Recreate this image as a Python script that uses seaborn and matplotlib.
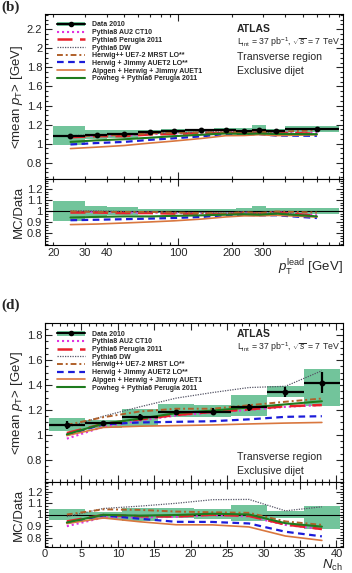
import matplotlib
matplotlib.use("Agg")
import matplotlib.pyplot as plt
import numpy as np
import seaborn as sns
from matplotlib.lines import Line2D
from matplotlib.patches import Patch
from matplotlib.ticker import FixedLocator, FuncFormatter, LogLocator, MultipleLocator, NullFormatter

# ---- (b) mean pT vs leading-jet pT --------------------------------------
PT_EDGES = [20, 30, 40, 60, 80, 110, 160, 210, 260, 310, 400, 800]
PT_CENTRES = [25, 35, 50, 70, 95, 135, 185, 235, 285, 355, 600]
PT_DATA = [1.084, 1.095, 1.102, 1.119, 1.130, 1.140, 1.147, 1.137, 1.147, 1.130, 1.158]
PT_STAT = [0.005, 0.005, 0.005, 0.005, 0.005, 0.005, 0.006, 0.006, 0.007, 0.008, 0.010]
PT_SYS_UP = [0.090, 0.045, 0.035, 0.020, 0.020, 0.015, 0.015, 0.025, 0.045, 0.025, 0.025]
PT_SYS_DOWN = [0.090, 0.045, 0.035, 0.020, 0.020, 0.015, 0.015, 0.025, 0.045, 0.025, 0.030]

PT_PYTHIA8_AU2 = [1.073, 1.084, 1.085, 1.102, 1.107, 1.117, 1.118, 1.120, 1.118, 1.119, 1.112]
PT_PERUGIA2011 = [1.068, 1.079, 1.080, 1.097, 1.102, 1.112, 1.113, 1.114, 1.118, 1.113, 1.106]
PT_PYTHIA6_DW = [1.084, 1.095, 1.096, 1.108, 1.113, 1.123, 1.124, 1.126, 1.118, 1.113, 1.100]
PT_HERWIGPP = [1.079, 1.084, 1.091, 1.108, 1.113, 1.117, 1.118, 1.126, 1.124, 1.124, 1.141]
PT_JIMMY_AUET2 = [0.992, 1.007, 1.019, 1.041, 1.057, 1.077, 1.101, 1.097, 1.101, 1.085, 1.083]
PT_ALPGEN = [0.949, 0.964, 0.981, 1.007, 1.028, 1.055, 1.084, 1.086, 1.095, 1.085, 1.094]
PT_POWHEG = [1.019, 1.035, 1.047, 1.063, 1.079, 1.094, 1.107, 1.103, 1.107, 1.102, 1.100]

# ---- (d) mean pT vs charged multiplicity --------------------------------
NCH_EDGES = [0.5, 5.5, 10.5, 15.5, 20.5, 25.5, 30.5, 35.5, 40.5]
NCH_CENTRES = [3, 8, 13, 18, 23, 28, 33, 38]
NCH_DATA = [1.080, 1.093, 1.142, 1.180, 1.187, 1.220, 1.347, 1.420]
NCH_STAT = [0.030, 0.020, 0.022, 0.020, 0.025, 0.030, 0.040, 0.085]
NCH_SYS_UP = [0.048, 0.025, 0.060, 0.057, 0.045, 0.080, 0.033, 0.074]
NCH_SYS_DOWN = [0.045, 0.035, 0.060, 0.030, 0.035, 0.055, 0.030, 0.130]

NCH_PYTHIA8_AU2 = [0.970, 1.065, 1.115, 1.155, 1.180, 1.200, 1.225, 1.240]
NCH_PERUGIA2011 = [1.015, 1.088, 1.125, 1.160, 1.185, 1.205, 1.230, 1.240]
NCH_PYTHIA6_DW = [1.060, 1.150, 1.225, 1.295, 1.340, 1.380, 1.390, 1.515]
NCH_HERWIGPP = [1.080, 1.142, 1.188, 1.210, 1.210, 1.238, 1.266, 1.292]
NCH_JIMMY_AUET2 = [1.000, 1.085, 1.100, 1.105, 1.110, 1.125, 1.145, 1.150]
NCH_ALPGEN = [0.995, 1.060, 1.070, 1.075, 1.080, 1.088, 1.095, 1.100]
NCH_POWHEG = [1.005, 1.090, 1.130, 1.175, 1.195, 1.220, 1.245, 1.270]

MC_LABELS = [
    "Pythia8 AU2 CT10",
    "Pythia6 Perugia 2011",
    "Pythia6 DW",
    "Herwig++ UE7-2 MRST LO**",
    "Herwig + Jimmy AUET2 LO**",
    "Alpgen + Herwig + Jimmy AUET1",
    "Powheg + Pythia6 Perugia 2011",
]
MC_STYLES = [
    ("#e033e0", (0, (1, 1.4)), 1.5),
    ("#e8212b", (0, (6, 3)), 1.8),
    ("#555566", (0, (1, 1)), 0.9),
    ("#b0602a", (0, (3, 1.5, 1, 1.5)), 1.4),
    ("#1c1cd9", (0, (3, 2)), 1.6),
    ("#d9773f", "-", 1.2),
    ("#1e7b1e", "-", 1.5),
]
BAND = "#72c49b"
W_PX, H_PX = 352, 573


def axes_rect(top_px, bottom_px):
    return [45 / W_PX, 1 - bottom_px / H_PX, 298 / W_PX, (bottom_px - top_px) / H_PX]


def fig_xy(x_px, y_px):
    return x_px / W_PX, 1 - y_px / H_PX


def style_axes(ax):
    ax.tick_params(which="both", direction="in", top=True, right=True,
                   labelsize=8, width=0.8, pad=2)
    ax.tick_params(which="major", length=5)
    ax.tick_params(which="minor", length=2.5)
    for sp in ax.spines.values():
        sp.set_linewidth(0.8)
        sp.set_color("black")


def draw_panel(ax, axr, edges, centres, data, stat, up, down, mc_sets):
    edges = np.asarray(edges, float)
    centres = np.asarray(centres, float)
    data = np.asarray(data)
    up = np.asarray(up)
    down = np.asarray(down)
    widths = np.diff(edges)
    ax.bar(edges[:-1], (up + down) * data, bottom=data * (1 - down), width=widths,
           align="edge", color=BAND, linewidth=0, zorder=1)
    axr.bar(edges[:-1], up + down, bottom=1 - down, width=widths,
            align="edge", color=BAND, linewidth=0, zorder=1)
    axr.axhline(1.0, color="black", lw=0.8, zorder=2)
    for vals, (col, ls, lw) in zip(mc_sets, MC_STYLES):
        vals = np.asarray(vals)
        sns.lineplot(x=centres, y=vals, ax=ax, color=col, linestyle=ls, lw=lw,
                     estimator=None, sort=False, legend=False, zorder=3)
        sns.lineplot(x=centres, y=vals / data, ax=axr, color=col, linestyle=ls, lw=lw,
                     estimator=None, sort=False, legend=False, zorder=3)
    ax.errorbar(centres, data, xerr=[centres - edges[:-1], edges[1:] - centres],
                yerr=stat, fmt="o", color="black", ms=3.2, elinewidth=1.6,
                capsize=0, zorder=4)
    for a in (ax, axr):
        a.set_xlabel("")
        a.set_ylabel("")
        style_axes(a)
    ax.tick_params(labelbottom=False)
    axr.yaxis.set_major_locator(FixedLocator([0.8, 0.9, 1.0, 1.1, 1.2]))
    axr.yaxis.set_minor_locator(MultipleLocator(0.025))
    fmt = FuncFormatter(lambda v, p: f"{v:g}")
    ax.yaxis.set_major_formatter(fmt)
    axr.yaxis.set_major_formatter(fmt)


def add_legend(ax, y_top):
    handles = [(Patch(facecolor=BAND, edgecolor="none"),
                Line2D([], [], color="black", marker="o", ms=3, lw=1.5))]
    for col, ls, lw in MC_STYLES:
        handles.append(Line2D([], [], color=col, linestyle=ls, lw=lw))
    ax.legend(handles, ["Data 2010"] + MC_LABELS, loc="upper left",
              bbox_to_anchor=(0.04, y_top), frameon=False,
              prop={"family": "Liberation Sans", "weight": "bold", "size": 5.0},
              handlelength=4.0, handleheight=0.7, handletextpad=1.0,
              labelspacing=0.1, borderpad=0, borderaxespad=0)


def add_atlas(fig, y_px):
    fig.text(*fig_xy(237, y_px), "ATLAS", fontsize=7.5, fontweight="bold",
             va="center", ha="left")
    fig.text(*fig_xy(237, y_px + 13.5), r"L$_{\rm int}$ = 37 pb$^{-1}$, $\sqrt{s}$ = 7 TeV",
             fontsize=6.3, va="center", ha="left")


def add_region(fig, y_px):
    fig.text(*fig_xy(237, y_px), "Transverse region", fontsize=7.6, va="center", ha="left")
    fig.text(*fig_xy(237, y_px + 14), "Exclusive dijet", fontsize=7.6, va="center", ha="left")


sns.set_theme(style="ticks")
plt.rcParams["font.family"] = ["Liberation Sans", "DejaVu Sans"]
plt.rcParams["mathtext.fontset"] = "custom"
plt.rcParams["mathtext.rm"] = "Liberation Sans"
plt.rcParams["mathtext.it"] = "Liberation Sans:italic"
plt.rcParams["mathtext.bf"] = "Liberation Sans:bold"

fig = plt.figure(figsize=(W_PX / 100, H_PX / 100), dpi=100)
ax_b = fig.add_axes(axes_rect(14, 179))
ax_br = fig.add_axes(axes_rect(179, 245))
ax_d = fig.add_axes(axes_rect(322.7, 482.3))
ax_dr = fig.add_axes(axes_rect(482.3, 546.7))

# (b)
draw_panel(ax_b, ax_br, PT_EDGES, PT_CENTRES, PT_DATA, PT_STAT, PT_SYS_UP, PT_SYS_DOWN,
           [PT_PYTHIA8_AU2, PT_PERUGIA2011, PT_PYTHIA6_DW, PT_HERWIGPP,
            PT_JIMMY_AUET2, PT_ALPGEN, PT_POWHEG])
for a in (ax_b, ax_br):
    a.set_xscale("log")
    a.set_xlim(18, 840)
    a.xaxis.set_major_locator(FixedLocator([100]))
    a.xaxis.set_minor_locator(LogLocator(base=10, subs=np.arange(2, 10)))
ax_br.xaxis.set_major_formatter(FuncFormatter(lambda v, p: f"{v:g}"))
ax_br.xaxis.set_minor_formatter(
    FuncFormatter(lambda v, p: f"{v:g}" if int(round(v)) in (20, 30, 40, 200, 300) else ""))
ax_br.tick_params(which="minor", labelsize=8)
ax_b.xaxis.set_minor_formatter(NullFormatter())
ax_b.xaxis.set_major_formatter(NullFormatter())
ax_b.set_ylim(0.63, 2.36)
ax_b.yaxis.set_major_locator(MultipleLocator(0.2))
ax_b.yaxis.set_minor_locator(MultipleLocator(0.05))
ax_br.set_ylim(0.69, 1.29)
add_legend(ax_b, 0.955)

# (d)
draw_panel(ax_d, ax_dr, NCH_EDGES, NCH_CENTRES, NCH_DATA, NCH_STAT, NCH_SYS_UP, NCH_SYS_DOWN,
           [NCH_PYTHIA8_AU2, NCH_PERUGIA2011, NCH_PYTHIA6_DW, NCH_HERWIGPP,
            NCH_JIMMY_AUET2, NCH_ALPGEN, NCH_POWHEG])
for a in (ax_d, ax_dr):
    a.set_xlim(0, 40.9)
    a.xaxis.set_major_locator(MultipleLocator(5))
    a.xaxis.set_minor_locator(MultipleLocator(1))
ax_d.set_ylim(0.62, 1.90)
ax_d.yaxis.set_major_locator(MultipleLocator(0.2))
ax_d.yaxis.set_minor_locator(MultipleLocator(0.05))
ax_dr.set_ylim(0.72, 1.28)
add_legend(ax_d, 0.95)

# labels
for ax_main, ax_rat in ((ax_b, ax_br), (ax_d, ax_dr)):
    ax_main.set_ylabel(r"<mean $p_{\rm T}$> [GeV]", fontsize=9.5)
    ax_rat.set_ylabel("MC/Data", fontsize=9.5)
    ax_main.yaxis.set_label_coords(-0.066, 0.5)
    ax_rat.yaxis.set_label_coords(-0.066, 0.5)

fig.text(*fig_xy(343, 268), r"$p_{\rm T}^{\rm lead}$ [GeV]", fontsize=9.5,
         ha="right", va="center")
fig.text(*fig_xy(343, 558), r"$N_{\rm ch}$", fontsize=9.5, ha="right", va="top")

fig.text(*fig_xy(1, 7), "(b)", fontsize=11, fontweight="bold",
         family="Liberation Serif", ha="left", va="center")
fig.text(*fig_xy(1, 305), "(d)", fontsize=11, fontweight="bold",
         family="Liberation Serif", ha="left", va="center")

add_atlas(fig, 29)
add_region(fig, 57)
add_atlas(fig, 334)
add_region(fig, 457)

fig.savefig("out.png", dpi=100)
